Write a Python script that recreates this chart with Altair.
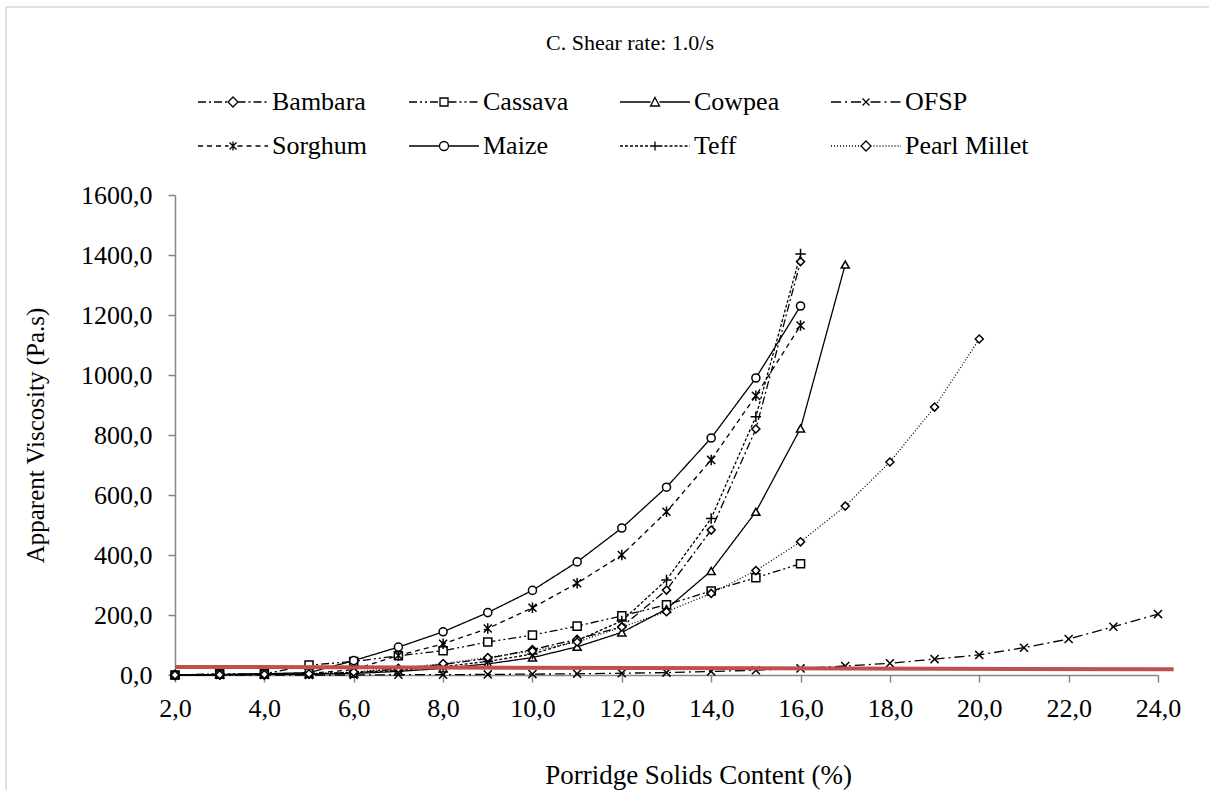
import altair as alt
import pandas as pd

# ---------------- data ----------------
series_names = ["Bambara", "Cassava", "Cowpea", "OFSP",
                "Sorghum", "Maize", "Teff", "Pearl Millet"]

solids_bambara = list(range(2, 17))
bambara = [0, 1, 2, 4, 8, 20, 35, 55, 85, 119, 161, 283, 483, 820, 1378]

solids_cassava = list(range(2, 17))
cassava = [0, 4, 4, 33, 45, 64, 81, 110, 133, 163, 197, 234, 280, 324, 371]

solids_cowpea = list(range(2, 18))
cowpea = [0, 1, 2, 3, 5, 12, 22, 37, 58, 94, 142, 220, 347, 544, 822, 1368]

solids_ofsp = list(range(2, 25))
ofsp = [0, 0, 0, 0, 0, 1, 1, 2, 3, 4, 6, 8, 12, 16, 22, 30, 39, 53, 67, 91,
        120, 161, 203]

solids_sorghum = list(range(2, 17))
sorghum = [0, 1, 2, 5, 18, 65, 104, 155, 224, 306, 400, 544, 717, 931, 1165]

solids_maize = list(range(2, 17))
maize = [0, 2, 4, 8, 48, 93, 144, 208, 282, 377, 490, 626, 790, 990, 1230]

solids_teff = list(range(2, 17))
teff = [0, 1, 2, 4, 8, 15, 28, 45, 70, 115, 180, 317, 522, 861, 1403]

solids_pearl = list(range(2, 21))
pearl_millet = [0, 1, 2, 4, 10, 22, 38, 58, 80, 110, 160, 211, 272, 348, 444,
                563, 710, 893, 1120]

# red reference line (start / end)
ref_x = [2.0, 24.35]
ref_y = [27, 19]

x_ticks = list(range(2, 25, 2))
y_ticks = list(range(0, 1601, 200))

title_text = "C. Shear rate: 1.0/s"
x_title = "Porridge Solids Content (%)"
y_title = "Apparent Viscosity (Pa.s)"

# ---------------- table ----------------
pairs = [
    ("Bambara", solids_bambara, bambara),
    ("Cassava", solids_cassava, cassava),
    ("Cowpea", solids_cowpea, cowpea),
    ("OFSP", solids_ofsp, ofsp),
    ("Sorghum", solids_sorghum, sorghum),
    ("Maize", solids_maize, maize),
    ("Teff", solids_teff, teff),
    ("Pearl Millet", solids_pearl, pearl_millet),
]
rows = []
for name, xs, ys in pairs:
    for xv, yv in zip(xs, ys):
        rows.append({"series": name, "solids": xv, "visc": yv})
df = pd.DataFrame(rows)
ref_df = pd.DataFrame({"x": [ref_x[0]], "x2": [ref_x[1]],
                       "y": [ref_y[0]], "y2": [ref_y[1]]})
title_df = pd.DataFrame({"t": [title_text]})

# ---------------- styles ----------------
FONT = "Liberation Serif"
dashes = [[8, 3, 2, 3], [8, 3, 2, 3, 2, 3], [1, 0], [10, 4, 2, 4],
          [5, 4], [1, 0], [3, 2], [1, 2]]

mk_x = "M-1,-1L1,1M-1,1L1,-1"
mk_ast = "M-1,-1L1,1M-1,1L1,-1M0,-1.3L0,1.3"
mk_plus = "M-1.3,0H1.3M0,-1.3V1.3"
point_shapes = ["diamond", "square", "triangle-up", mk_x,
                mk_ast, "circle", mk_plus, "diamond"]

# legend glyphs: dashed line segment + marker, in pixel units (size=4 -> scale 1)
HALF = 35
R = 4.5


def seg_path(x0, x1, pattern):
    out = []
    if pattern[1] == 0:
        return "M%.2f,0H%.2f" % (x0, x1)
    pos = x0
    i = 0
    while pos < x1:
        ln = pattern[i % len(pattern)]
        end = min(pos + ln, x1)
        if i % 2 == 0:
            out.append("M%.2f,0H%.2f" % (pos, end))
        pos = end
        i += 1
    return "".join(out)


marker_px = {
    "diamond": "M0,-5L5,0L0,5L-5,0Z",
    "square": "M-4,-4H4V4H-4Z",
    "triangle-up": "M0,-4.5L4.5,4L-4.5,4Z",
    "x": "M-3.5,-3.5L3.5,3.5M-3.5,3.5L3.5,-3.5",
    "ast": "M-3.5,-3.5L3.5,3.5M-3.5,3.5L3.5,-3.5M0,-4.5L0,4.5",
    "circle": "M4.5,0A4.5,4.5,0,1,1,-4.5,0A4.5,4.5,0,1,1,4.5,0Z",
    "plus": "M-4.5,0H4.5M0,-4.5V4.5",
}
marker_keys = ["diamond", "square", "triangle-up", "x", "ast", "circle",
               "plus", "diamond"]
legend_glyphs = []
for dash, mk in zip(dashes, marker_keys):
    legend_glyphs.append(seg_path(-HALF, -R, dash) + seg_path(R, HALF, dash)
                         + marker_px[mk])

label_expr = "replace(format(datum.value, '.1f'), '.', ',')"

x_enc = alt.X("solids:Q",
              scale=alt.Scale(domain=[2, 24], nice=False, zero=False),
              axis=alt.Axis(values=x_ticks, labelExpr=label_expr, grid=False,
                            labelFlush=False, labelOverlap=False,
                            title=x_title, titleX=523, titleY=100,
                            titleAlign="center", titleBaseline="middle",
                            titleFontSize=27))
y_enc = alt.Y("visc:Q",
              scale=alt.Scale(domain=[0, 1600], nice=False),
              axis=alt.Axis(values=y_ticks, labelExpr=label_expr, grid=False,
                            labelFlush=False, labelOverlap=False,
                            title=y_title, titleX=-140, titleY=240,
                            titleBaseline="middle", labelPadding=16,
                            titleFontSize=25))

lines = alt.Chart(df).mark_line(color="black", strokeWidth=1.3).encode(
    x=x_enc, y=y_enc,
    strokeDash=alt.StrokeDash("series:N",
                              scale=alt.Scale(domain=series_names, range=dashes),
                              legend=None),
)

points = alt.Chart(df).mark_point(filled=True, fill="white", stroke="black",
                                  strokeWidth=1.5, size=65, opacity=1).encode(
    x="solids:Q", y="visc:Q",
    shape=alt.Shape("series:N",
                    scale=alt.Scale(domain=series_names, range=point_shapes),
                    legend=None),
)

legend_layer = alt.Chart(df).mark_point(
    filled=False, color="black", strokeWidth=1.3, size=4,
    opacity=1).encode(
    x="solids:Q", y="visc:Q",
    shape=alt.Shape("series:N",
                    scale=alt.Scale(domain=series_names, range=legend_glyphs),
                    legend=alt.Legend(
                        orient="none", direction="horizontal",
                        legendX=23, legendY=-106, columns=4, gridAlign="all",
                        title=None, labelFont=FONT, labelFontSize=26,
                        labelColor="black", symbolOffset=22, labelOffset=26,
                        columnPadding=10, rowPadding=18, symbolSize=4,
                        symbolStrokeWidth=1.3, symbolStrokeColor="black",
                        symbolOpacity=1, padding=0, labelLimit=0)),
).transform_filter("false")

ref_line = alt.Chart(ref_df).mark_rule(color="#C0504D", strokeWidth=4).encode(
    x="x:Q", x2="x2:Q", y="y:Q", y2="y2:Q")

title_mark = alt.Chart(title_df).mark_text(
    font=FONT, fontSize=22, color="black", align="center",
    baseline="middle").encode(
    text="t:N", x=alt.value(455), y=alt.value(-152))

frame = alt.Chart(pd.DataFrame({"a": [0]})).mark_rect(
    fill=None, stroke="#d9d9d9", strokeWidth=1.5).encode(
    x=alt.value(-169), x2=alt.value(1045), y=alt.value(-188), y2=alt.value(605))

chart = alt.layer(frame, lines, points, legend_layer, ref_line,
                  title_mark).resolve_scale(
    shape="independent"
).properties(
    width=983, height=480,
    padding={"left": 175, "top": 195, "right": 51, "bottom": 115},
    autosize=alt.AutoSizeParams(type="none"),
).configure(font=FONT).configure_view(stroke=None).configure_axis(
    domainColor="#868686", tickColor="#868686", domainWidth=1.5,
    tickWidth=1.5, tickSize=7, labelFont=FONT, labelFontSize=26,
    labelColor="black", titleFont=FONT, titleFontSize=25,
    titleFontWeight="normal", titleColor="black"
).configure_axisX(labelPadding=13)

chart.save("out.html", embed_options={"renderer": "svg", "actions": False})
